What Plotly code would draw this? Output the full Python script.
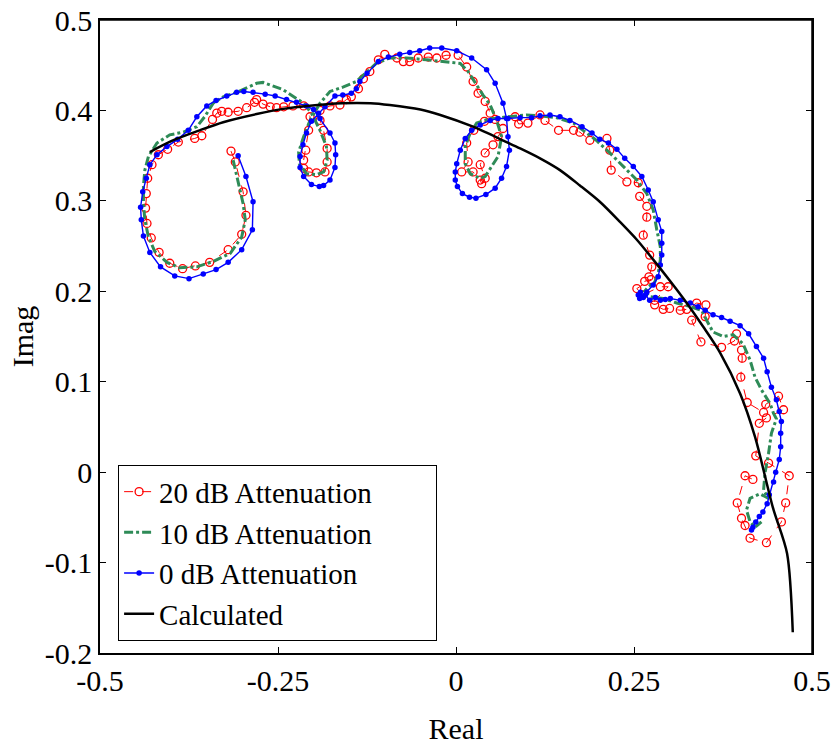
import plotly.graph_objects as go

# 20 dB attenuation (red, open circles, dashed)
red_x = [-0.316, -0.310, -0.299, -0.295, -0.301, -0.320, -0.346, -0.366, -0.384, -0.402, -0.417, -0.428,
         -0.434, -0.436, -0.435, -0.433, -0.427, -0.418, -0.405, -0.390, -0.367, -0.357, -0.342, -0.336,
         -0.329, -0.320, -0.306, -0.294, -0.283, -0.280, -0.271, -0.261, -0.252, -0.242, -0.229, -0.214,
         -0.205, -0.207, -0.211, -0.214, -0.214, -0.207, -0.196, -0.184, -0.181, -0.181, -0.186, -0.191,
         -0.191, -0.177, -0.163, -0.154, -0.147, -0.137, -0.130, -0.121, -0.109, -0.100, -0.083, -0.074,
         -0.065, -0.053, -0.039, -0.027, -0.014, 0.003, 0.015, 0.024, 0.031, 0.041, 0.048, 0.055,
         0.066, 0.059, 0.052, 0.041, 0.034, 0.041, 0.036, 0.034, 0.024, 0.008, 0.017, 0.015,
         0.025, 0.040, 0.083, 0.088, 0.101, 0.118, 0.125, 0.144, 0.165, 0.174, 0.188, 0.212,
         0.216, 0.218, 0.240, 0.256, 0.258, 0.268, 0.268, 0.263, 0.272, 0.275, 0.271, 0.265,
         0.274, 0.254, 0.262, 0.287, 0.298, 0.279, 0.279, 0.291, 0.300, 0.315, 0.324, 0.338,
         0.351, 0.350, 0.331, 0.344, 0.373, 0.391, 0.394, 0.401, 0.402, 0.400, 0.409, 0.432,
         0.435, 0.453, 0.460, 0.436, 0.426, 0.421, 0.439, 0.468, 0.463, 0.457, 0.436, 0.413,
         0.406, 0.401, 0.395, 0.406, 0.417]
red_y = [0.355, 0.343, 0.310, 0.284, 0.263, 0.246, 0.232, 0.228, 0.225, 0.231, 0.243, 0.259,
         0.275, 0.292, 0.308, 0.325, 0.340, 0.351, 0.357, 0.365, 0.369, 0.372, 0.390, 0.397,
         0.399, 0.398, 0.399, 0.403, 0.409, 0.412, 0.407, 0.404, 0.403, 0.404, 0.405, 0.405,
         0.393, 0.378, 0.356, 0.345, 0.336, 0.332, 0.331, 0.332, 0.343, 0.358, 0.378, 0.389,
         0.400, 0.405, 0.406, 0.412, 0.415, 0.424, 0.435, 0.443, 0.456, 0.462, 0.458, 0.454,
         0.454, 0.458, 0.459, 0.458, 0.461, 0.461, 0.448, 0.432, 0.419, 0.410, 0.397, 0.390,
         0.380, 0.371, 0.362, 0.353, 0.340, 0.325, 0.319, 0.323, 0.332, 0.332, 0.343, 0.364,
         0.378, 0.388, 0.393, 0.385, 0.386, 0.395, 0.389, 0.378, 0.378, 0.376, 0.367, 0.369,
         0.356, 0.334, 0.321, 0.320, 0.305, 0.294, 0.282, 0.262, 0.240, 0.227, 0.216, 0.211,
         0.213, 0.203, 0.196, 0.205, 0.205, 0.190, 0.185, 0.180, 0.181, 0.179, 0.180, 0.187,
         0.185, 0.172, 0.168, 0.144, 0.138, 0.145, 0.153, 0.135, 0.126, 0.105, 0.077, 0.066,
         0.075, 0.084, 0.069, 0.060, 0.054, 0.018, 0.010, -0.004, -0.034, -0.055, -0.078, -0.073,
         -0.059, -0.051, -0.034, -0.004, -0.008]

# 10 dB attenuation (green, dash-dot)
green_x = [-0.313, -0.308, -0.299, -0.296, -0.301, -0.317, -0.341, -0.364, -0.388, -0.406, -0.423, -0.432,
           -0.437, -0.439, -0.439, -0.437, -0.432, -0.420, -0.402, -0.383, -0.364, -0.353, -0.341, -0.327,
           -0.308, -0.280, -0.271, -0.243, -0.214, -0.203, -0.191, -0.182, -0.181, -0.186, -0.196, -0.210,
           -0.220, -0.221, -0.214, -0.205, -0.191, -0.177, -0.158, -0.140, -0.125, -0.112, -0.093, -0.069,
           -0.041, -0.013, 0.006, 0.017, 0.027, 0.038, 0.048, 0.057, 0.064, 0.059, 0.050, 0.041,
           0.034, 0.020, 0.013, 0.013, 0.020, 0.029, 0.048, 0.080, 0.099, 0.118, 0.141, 0.165,
           0.179, 0.197, 0.216, 0.235, 0.254, 0.268, 0.277, 0.282, 0.287, 0.287, 0.284, 0.279,
           0.270, 0.265, 0.272, 0.291, 0.310, 0.329, 0.345, 0.352, 0.361, 0.375, 0.389, 0.403,
           0.413, 0.420, 0.429, 0.441, 0.446, 0.450, 0.443, 0.439, 0.434, 0.432, 0.439, 0.427,
           0.413, 0.408, 0.413, 0.420, 0.429]
green_y = [0.345, 0.327, 0.297, 0.279, 0.260, 0.242, 0.233, 0.227, 0.226, 0.232, 0.244, 0.260,
           0.279, 0.297, 0.316, 0.334, 0.349, 0.364, 0.373, 0.376, 0.382, 0.393, 0.408, 0.415,
           0.420, 0.430, 0.431, 0.423, 0.408, 0.397, 0.378, 0.360, 0.345, 0.332, 0.329, 0.330,
           0.341, 0.354, 0.371, 0.389, 0.408, 0.421, 0.426, 0.432, 0.443, 0.452, 0.458, 0.458,
           0.456, 0.454, 0.452, 0.443, 0.430, 0.417, 0.406, 0.389, 0.371, 0.349, 0.338, 0.327,
           0.325, 0.330, 0.341, 0.360, 0.375, 0.386, 0.391, 0.394, 0.395, 0.394, 0.392, 0.386,
           0.378, 0.367, 0.353, 0.338, 0.323, 0.308, 0.290, 0.268, 0.249, 0.235, 0.220, 0.210,
           0.205, 0.200, 0.194, 0.192, 0.187, 0.183, 0.179, 0.168, 0.155, 0.150, 0.152, 0.142,
           0.124, 0.105, 0.091, 0.076, 0.065, 0.059, 0.043, 0.021, -0.001, -0.020, -0.029, -0.024,
           -0.029, -0.042, -0.055, -0.061, -0.055]

# 0 dB attenuation (blue, filled dots, solid)
blue_x = [-0.306, -0.295, -0.285, -0.286, -0.301, -0.320, -0.337, -0.355, -0.375, -0.395, -0.415, -0.430,
          -0.439, -0.442, -0.443, -0.440, -0.435, -0.430, -0.420, -0.406, -0.391, -0.376, -0.364, -0.350,
          -0.337, -0.322, -0.308, -0.298, -0.285, -0.268, -0.254, -0.238, -0.224, -0.210, -0.200, -0.191,
          -0.177, -0.170, -0.169, -0.170, -0.177, -0.186, -0.192, -0.203, -0.214, -0.219, -0.219, -0.215,
          -0.210, -0.203, -0.193, -0.184, -0.170, -0.159, -0.147, -0.140, -0.135, -0.125, -0.109, -0.095,
          -0.079, -0.065, -0.051, -0.037, -0.020, 0.001, 0.022, 0.043, 0.055, 0.066, 0.071, 0.073,
          0.075, 0.071, 0.064, 0.055, 0.042, 0.028, 0.019, 0.009, 0.002, -0.001, -0.001, 0.001,
          0.006, 0.013, 0.022, 0.034, 0.048, 0.059, 0.073, 0.090, 0.106, 0.118, 0.132, 0.146,
          0.160, 0.177, 0.191, 0.202, 0.214, 0.226, 0.237, 0.249, 0.261, 0.270, 0.277, 0.284,
          0.289, 0.289, 0.289, 0.287, 0.284, 0.277, 0.268, 0.261, 0.258, 0.256, 0.259, 0.263,
          0.266, 0.272, 0.280, 0.287, 0.294, 0.301, 0.315, 0.329, 0.340, 0.350, 0.361, 0.373,
          0.385, 0.399, 0.411, 0.422, 0.432, 0.437, 0.443, 0.450, 0.454, 0.457, 0.456, 0.456,
          0.454, 0.449, 0.446, 0.440, 0.437, 0.431, 0.426, 0.421, 0.417, 0.415]
blue_y = [0.350, 0.327, 0.299, 0.268, 0.246, 0.232, 0.224, 0.219, 0.214, 0.217, 0.227, 0.243,
          0.261, 0.279, 0.293, 0.310, 0.325, 0.340, 0.351, 0.360, 0.368, 0.378, 0.393, 0.405,
          0.411, 0.416, 0.420, 0.421, 0.420, 0.418, 0.416, 0.412, 0.409, 0.405, 0.401, 0.391,
          0.375, 0.364, 0.351, 0.337, 0.323, 0.317, 0.316, 0.318, 0.327, 0.337, 0.349, 0.362,
          0.375, 0.388, 0.397, 0.404, 0.416, 0.417, 0.419, 0.424, 0.432, 0.441, 0.454, 0.459,
          0.462, 0.464, 0.466, 0.469, 0.469, 0.466, 0.458, 0.445, 0.430, 0.408, 0.391, 0.371,
          0.356, 0.338, 0.325, 0.314, 0.307, 0.303, 0.304, 0.308, 0.316, 0.323, 0.332, 0.341,
          0.356, 0.369, 0.378, 0.384, 0.389, 0.391, 0.391, 0.392, 0.392, 0.394, 0.395, 0.393,
          0.389, 0.382, 0.375, 0.368, 0.364, 0.357, 0.347, 0.338, 0.327, 0.312, 0.299, 0.279,
          0.266, 0.253, 0.240, 0.229, 0.216, 0.207, 0.199, 0.194, 0.192, 0.196, 0.199, 0.193,
          0.196, 0.190, 0.193, 0.190, 0.191, 0.192, 0.190, 0.187, 0.183, 0.179, 0.174, 0.171,
          0.167, 0.162, 0.153, 0.139, 0.126, 0.111, 0.094, 0.080, 0.067, 0.056, 0.043, 0.028,
          0.014, 0.000, -0.011, -0.025, -0.035, -0.044, -0.049, -0.055, -0.061, -0.064]

# Calculated (black, solid)
calc_x = [-0.430, -0.400, -0.360, -0.327, -0.280, -0.240, -0.209, -0.160, -0.120, -0.093, -0.050, -0.022,
          0.024, 0.071, 0.090, 0.118, 0.146, 0.174, 0.202, 0.230, 0.254, 0.277, 0.301, 0.324, 0.347,
          0.371, 0.399, 0.420, 0.445, 0.465, 0.473]
calc_y = [0.354, 0.366, 0.378, 0.387, 0.396, 0.402, 0.405, 0.408, 0.408, 0.406, 0.401, 0.395,
          0.382, 0.365, 0.358, 0.347, 0.334, 0.317, 0.299, 0.277, 0.257, 0.235, 0.211, 0.187, 0.161,
          0.132, 0.087, 0.039, -0.039, -0.090, -0.177]

x_ticks = [-0.5, -0.25, 0, 0.25, 0.5]
x_tick_labels = ["-0.5", "-0.25", "0", "0.25", "0.5"]
y_ticks = [-0.2, -0.1, 0, 0.1, 0.2, 0.3, 0.4, 0.5]
y_tick_labels = ["-0.2", "-0.1", "0", "0.1", "0.2", "0.3", "0.4", "0.5"]
series_names = ["20 dB Attenuation", "10 dB Attenuation", "0 dB Attenuation", "Calculated"]
x_range = [-0.5, 0.5]
y_range = [-0.2, 0.5]

FONT = "Liberation Serif, Times New Roman, serif"
FS = 30
LFS = 29
PAD = "\u00a0" * 8  # extra right padding inside the legend box

fig = go.Figure()
fig.add_trace(go.Scatter(
    x=red_x, y=red_y, mode="lines+markers", name=series_names[0] + PAD,
    line=dict(color="#FF0000", width=1, dash="dash"),
    marker=dict(symbol="circle-open", size=8, color="#FF0000", line=dict(width=1.3)),
))
fig.add_trace(go.Scatter(
    x=green_x, y=green_y, mode="lines", name=series_names[1] + PAD,
    line=dict(color="#2E8B57", width=3, dash="dashdot"),
))
fig.add_trace(go.Scatter(
    x=blue_x, y=blue_y, mode="lines+markers", name=series_names[2] + PAD,
    line=dict(color="#0000FF", width=1.4),
    marker=dict(symbol="circle", size=5.5, color="#0000FF"),
))
fig.add_trace(go.Scatter(
    x=calc_x, y=calc_y, mode="lines", name=series_names[3] + PAD,
    line=dict(color="#000000", width=2.5, shape="spline", smoothing=0.8),
))

axis_common = dict(
    showline=True, linecolor="black", linewidth=1.5, mirror="allticks",
    ticks="inside", ticklen=6, tickwidth=1, tickcolor="black",
    showgrid=False, zeroline=False, automargin=False,
    tickfont=dict(family=FONT, size=FS, color="black"),
)

fig.update_layout(
    width=836, height=745,
    margin=dict(l=100, r=24, t=20, b=92),
    paper_bgcolor="white", plot_bgcolor="white",
    font=dict(family=FONT, size=FS, color="black"),
    xaxis=dict(range=x_range, tickvals=x_ticks, ticktext=x_tick_labels,
               title=dict(text="Real", font=dict(family=FONT, size=FS), standoff=24),
               **axis_common),
    yaxis=dict(range=y_range, tickvals=y_ticks, ticktext=y_tick_labels,
               title=dict(text="Imag", font=dict(family=FONT, size=FS), standoff=2),
               **axis_common),
    legend=dict(x=0.025, y=0.297, xanchor="left", yanchor="top",
                bgcolor="white", bordercolor="black", borderwidth=1.3,
                font=dict(family=FONT, size=LFS, color="black"),
                tracegroupgap=0, itemwidth=30),
    shapes=[
        dict(type="line", xref="paper", yref="paper", x0=0, x1=1, y0=1, y1=1,
             line=dict(color="black", width=1.5), layer="above"),
        dict(type="line", xref="paper", yref="paper", x0=1, x1=1, y0=0, y1=1,
             line=dict(color="black", width=1.5), layer="above"),
    ],
    showlegend=True,
)

# remove the default 8px page margin so the figure sits at the window's top-left corner
fig.write_html("out.html", config={"displayModeBar": False},
               post_script="document.body.style.margin='0';")
